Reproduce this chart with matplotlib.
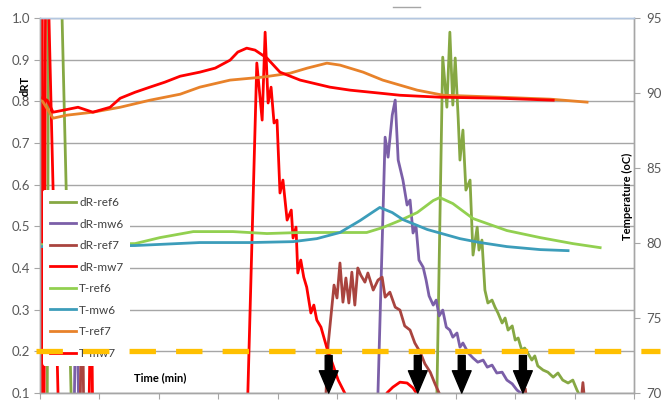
import numpy as np
import matplotlib
matplotlib.use('Agg')
import matplotlib.pyplot as plt
from matplotlib.lines import Line2D

plt.rcParams['font.family'] = ['Lato', 'DejaVu Sans']
plt.rcParams['lines.scale_dashes'] = False

# ---------------- data ----------------
t_dr_ref6 = [0.00, 0.12, 0.17, 0.54, 6.67, 6.78, 6.85, 6.90, 6.95, 6.99, 7.04, 7.07, 7.12, 7.17, 7.24, 7.29,
             7.36, 7.39, 7.44, 7.49, 7.54, 7.61, 7.66, 7.71, 7.78, 7.83, 7.88, 7.95, 8.00, 8.05, 8.11, 8.16,
             8.22, 8.28, 8.33, 8.38, 8.47, 8.55, 8.64, 8.72, 8.80, 8.89, 8.97, 9.04, 9.09, 9.30]
v_dr_ref6 = [0.00, 0.00, 2.20, 0.00, 0.00, 0.906, 0.786, 0.966, 0.791, 0.904, 0.760, 0.659, 0.731, 0.587, 0.611,
             0.431, 0.498, 0.443, 0.467, 0.347, 0.316, 0.323, 0.306, 0.292, 0.268, 0.280, 0.251, 0.261, 0.227,
             0.232, 0.203, 0.208, 0.194, 0.179, 0.189, 0.165, 0.155, 0.150, 0.138, 0.148, 0.131, 0.124, 0.131,
             0.107, 0.093, 0.05]

t_dr_mw6 = [0.00, 0.57, 0.61, 0.66, 5.67, 5.81, 5.86, 5.93, 5.98, 6.03, 6.11, 6.18, 6.23, 6.28, 6.33, 6.38,
            6.45, 6.50, 6.55, 6.62, 6.67, 6.72, 6.78, 6.84, 6.90, 6.95, 7.02, 7.07, 7.12, 7.21, 7.29, 7.37,
            7.46, 7.53, 7.61, 7.69, 7.78, 7.86, 7.95, 8.03, 8.11, 8.25, 9.30]
v_dr_mw6 = [0.00, 0.00, 0.40, 0.00, 0.00, 0.714, 0.666, 0.767, 0.803, 0.659, 0.611, 0.551, 0.563, 0.484, 0.501,
            0.419, 0.402, 0.371, 0.333, 0.311, 0.323, 0.285, 0.299, 0.258, 0.251, 0.234, 0.244, 0.210, 0.220,
            0.196, 0.184, 0.174, 0.179, 0.162, 0.167, 0.148, 0.150, 0.131, 0.122, 0.107, 0.098, 0.05, 0.05]

t_dr_ref7 = [0.00, 0.67, 0.71, 0.74, 4.80, 4.85, 4.90, 4.95, 5.00, 5.05, 5.10, 5.15, 5.20, 5.25, 5.30, 5.35,
             5.40, 5.47, 5.52, 5.61, 5.69, 5.76, 5.81, 5.89, 5.98, 6.06, 6.14, 6.23, 6.31, 6.40, 6.48, 6.57,
             6.65, 6.75, 6.85, 8.12, 8.17, 8.22, 9.09, 9.14, 9.19, 9.30]
v_dr_ref7 = [0.00, 0.00, 0.40, 0.00, 0.05, 0.215, 0.287, 0.359, 0.328, 0.412, 0.318, 0.376, 0.316, 0.390, 0.311,
             0.400, 0.383, 0.366, 0.388, 0.347, 0.371, 0.378, 0.330, 0.342, 0.306, 0.299, 0.261, 0.251, 0.220,
             0.198, 0.170, 0.150, 0.122, 0.090, 0.05, 0.05, 0.11, 0.05, 0.05, 0.125, 0.05, 0.05]

t_dr_mw7 = [0.00, 0.017, 0.05, 0.067, 0.10, 0.32, 0.82, 0.86, 0.89, 3.48, 3.65, 3.74, 3.79, 3.84, 3.89, 3.94,
            3.99, 4.04, 4.09, 4.16, 4.23, 4.26, 4.31, 4.34, 4.39, 4.44, 4.49, 4.56, 4.61, 4.66, 4.73, 4.83,
            4.92, 5.02, 5.13, 5.25, 5.79, 5.84, 5.94, 6.06, 6.18, 6.28, 6.36, 6.48, 9.00]
v_dr_mw7 = [0.00, 3.00, 0.00, 0.00, 1.30, 0.00, 0.00, 0.42, 0.00, 0.00, 0.892, 0.755, 0.966, 0.796, 0.834, 0.748,
            0.755, 0.580, 0.611, 0.515, 0.539, 0.472, 0.498, 0.388, 0.419, 0.378, 0.354, 0.292, 0.311, 0.275,
            0.258, 0.208, 0.172, 0.131, 0.100, 0.05, 0.05, 0.10, 0.114, 0.126, 0.124, 0.112, 0.095, 0.05, 0.05]

t_t_ref6 = [0.00, 1.60, 2.02, 2.58, 3.25, 3.82, 4.38, 4.93, 5.50, 5.77, 6.06, 6.35, 6.62, 6.73, 6.95, 7.29,
            7.86, 8.42, 8.97, 9.43]
v_t_ref6 = [79.89, 79.96, 80.36, 80.76, 80.76, 80.63, 80.70, 80.70, 80.70, 81.03, 81.50, 82.03, 82.83, 83.03,
            82.63, 81.63, 80.83, 80.36, 79.96, 79.69]

t_t_mw6 = [0.00, 1.60, 2.69, 3.54, 4.26, 4.66, 5.05, 5.39, 5.59, 5.72, 5.93, 6.11, 6.52, 7.07, 7.41, 7.86,
           8.42, 8.89]
v_t_mw6 = [79.76, 79.83, 80.03, 80.03, 80.09, 80.29, 80.70, 81.50, 82.03, 82.37, 82.03, 81.56, 80.90, 80.29,
           80.03, 79.76, 79.56, 79.49]

t_t_ref7 = [0.00, 0.22, 0.45, 0.89, 1.35, 1.85, 2.36, 2.69, 3.20, 3.75, 4.21, 4.50, 4.83, 5.05, 5.44, 5.77,
            6.35, 6.79, 7.24, 7.74, 8.59, 9.21]
v_t_ref7 = [89.72, 88.32, 88.52, 88.72, 89.05, 89.52, 89.92, 90.39, 90.86, 91.06, 91.32, 91.66, 91.99, 91.86,
            91.39, 90.86, 90.19, 89.85, 89.79, 89.72, 89.59, 89.39]

t_t_mw7 = [0.00, 0.12, 0.22, 0.39, 0.64, 0.89, 1.18, 1.35, 1.60, 1.85, 2.10, 2.36, 2.69, 2.95, 3.20, 3.33,
           3.48, 3.62, 3.82, 4.04, 4.38, 4.88, 5.22, 5.72, 6.06, 6.73, 7.74, 8.64]
v_t_mw7 = [89.72, 89.52, 88.72, 88.85, 89.05, 88.72, 89.05, 89.65, 90.05, 90.39, 90.72, 91.12, 91.39, 91.66,
           92.19, 92.73, 92.99, 92.86, 92.33, 91.39, 90.86, 90.39, 90.19, 89.99, 89.85, 89.72, 89.65, 89.52]

threshold = 0.2
arrow_times = [4.86, 6.36, 7.10, 8.13]

dr_ticks = [0.1, 0.2, 0.3, 0.4, 0.5, 0.6, 0.7, 0.8, 0.9, 1.0]
temp_ticks = [70, 75, 80, 85, 90, 95]
time_ticks = list(range(0, 11))

# ---------------- figure ----------------
W, H = 670, 401
fig = plt.figure(figsize=(W / 100, H / 100), dpi=100)
ax = fig.add_axes([40 / W, 8 / H, 594 / W, 375 / H])
ax2 = ax.twinx()

grey = '#A6A6A6'
lab = '#595959'
lw_dr = 2.0
lw_t = 2.0

l1, = ax.plot(t_dr_ref6, v_dr_ref6, color='#86A843', lw=lw_dr, label='dR-ref6')
l2, = ax.plot(t_dr_mw6, v_dr_mw6, color='#7B5FA8', lw=lw_dr, label='dR-mw6')
l3, = ax.plot(t_dr_ref7, v_dr_ref7, color='#A9443F', lw=lw_dr, label='dR-ref7')
l4, = ax.plot(t_dr_mw7, v_dr_mw7, color='#FF0000', lw=lw_dr, label='dR-mw7')

l5, = ax2.plot(t_t_ref6, v_t_ref6, color='#92D050', lw=lw_t, label='T-ref6')
l6, = ax2.plot(t_t_mw6, v_t_mw6, color='#3C9DBA', lw=lw_t, label='T-mw6')
l7, = ax2.plot(t_t_ref7, v_t_ref7, color='#E8822A', lw=lw_t, label='T-ref7')
l8, = ax2.plot(t_t_mw7, v_t_mw7, color='#FF0000', lw=lw_t, label='T-mw7')

ax.set_xlim(0, 10)
ax.set_ylim(0.1, 1.0)
ax2.set_ylim(70, 95)

ax.set_yticks(dr_ticks)
ax.set_yticklabels([f'{v:.1f}' for v in dr_ticks])
ax.set_xticks(time_ticks)
ax.set_xticklabels([])
ax2.set_yticks(temp_ticks)

ax.yaxis.grid(True, color=grey, lw=1.0)
ax.set_axisbelow(True)
for a in (ax, ax2):
    for s in a.spines.values():
        s.set_color(grey)
        s.set_linewidth(1.0)
    a.spines['top'].set_color('#B4C7E0')
ax.tick_params(axis='y', direction='out', length=4, color=grey, labelcolor=lab, labelsize=9.5, pad=3)
ax.tick_params(axis='x', direction='out', length=4, color=grey)
ax2.tick_params(axis='y', direction='out', length=4, color=grey, labelcolor=lab, labelsize=9.5, pad=5)

# legend (opaque, on top of lines)
handles = [l1, l2, l3, l4, l5, l6, l7, l8]
leg = ax2.legend(handles, [h.get_label() for h in handles], loc='upper left',
                 bbox_to_anchor=(3 / 594, (393 - 190) / 375), borderaxespad=0,
                 frameon=True, facecolor='white', edgecolor='none', framealpha=1,
                 fontsize=8.5, handlelength=2.2, handletextpad=0.25, labelspacing=0.89,
                 borderpad=0.6)
for txt in leg.get_texts():
    txt.set_color('#404040')
leg.set_zorder(5)

# threshold dashed line (drawn over legend)
thr = Line2D([-0.07, 10.44], [threshold, threshold], transform=ax.transData, color='#FFC000',
             lw=3.8, dashes=(19, 14.5), dash_capstyle='butt', clip_on=False, zorder=10)
ax2.add_line(thr)

# arrows
for ta in arrow_times:
    ax2.annotate('', xy=(ta, 0.1), xycoords=ax.transData, xytext=(ta, 0.19), textcoords=ax.transData,
                 arrowprops=dict(arrowstyle='simple,head_length=1.6,head_width=1.35,tail_width=0.5',
                                 fc='black', ec='black', shrinkA=0, shrinkB=0, mutation_scale=10),
                 zorder=11, annotation_clip=False)

# axis titles
fig.text(25 / W, 1 - 86 / H, 'dRT', rotation=90, ha='center', va='center', fontsize=8,
         fontweight='bold', color='black')
fig.text(627 / W, 1 - 196 / H, 'Temperature (oC)', rotation=90, ha='center', va='center',
         fontsize=8, fontweight='bold', color='black')
fig.text(160 / W, 1 - 378 / H, 'Time (min)', ha='center', va='center', fontsize=8,
         fontweight='bold', color='black', zorder=12)

# small stray line at the top
fig.add_artist(Line2D([393 / W, 420 / W], [1 - 7 / H, 1 - 7 / H], color=grey, lw=1.0))

fig.savefig('out.png', dpi=100, facecolor='white')
